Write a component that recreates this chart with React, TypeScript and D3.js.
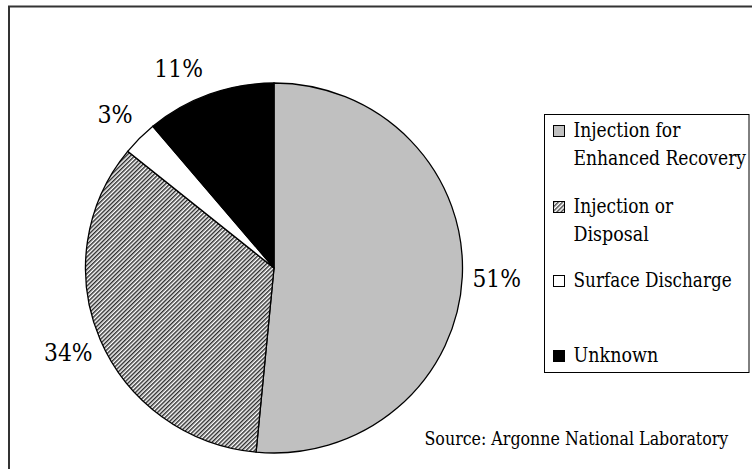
import React from "react";
import * as d3 from "d3";

const categories = ["Injection for Enhanced Recovery", "Injection or Disposal", "Surface Discharge", "Unknown"];
const legendLines = [["Injection for", "Enhanced Recovery"], ["Injection or", "Disposal"], ["Surface Discharge"], ["Unknown"]];
const values = [51, 34, 3, 11];
const labels = ["51%", "34%", "3%", "11%"];
const fills = ["#c0c0c0", "url(#hatch)", "#ffffff", "#000000"];
const sourceText = "Source: Argonne National Laboratory";

const W = 752;
const H = 469;
const cx = 274;
const cy = 268;
const rx = 188.5;
const ry = 185;
const labelR = 223;
const FONT = "DejaVu Serif";

// Times-Roman advance widths (per 1000 em), used to give the serif text Times-like widths
const TW: Record<string, number> = {
  " ": 250, "%": 833, ":": 278, "0": 500, "1": 500, "2": 500, "3": 500, "4": 500, "5": 500, "6": 500, "7": 500, "8": 500, "9": 500,
  A: 722, D: 722, E: 611, I: 333, L: 611, N: 722, R: 667, S: 556, U: 722,
  a: 444, b: 500, c: 444, d: 500, e: 444, f: 333, g: 500, h: 500, i: 278, j: 278, k: 500, l: 278, m: 778, n: 500, o: 500,
  p: 500, r: 333, s: 389, t: 278, u: 500, v: 500, w: 722, y: 500,
};
const timesWidth = (s: string, size: number) => s.split("").reduce((acc, ch) => acc + (TW[ch] ?? 500), 0) * size / 1000;
const CAP_RATIO = 0.662 / 0.729;

function SerifText(props: { x: number; y: number; size: number; text: string; anchor?: string; dy?: string }) {
  const { x, y, size, text, anchor, dy } = props;
  return (
    <text
      x={x}
      y={y}
      dy={dy}
      textAnchor={anchor || "start"}
      fontFamily={FONT}
      fontSize={size * CAP_RATIO}
      textLength={timesWidth(text, size)}
      lengthAdjust="spacingAndGlyphs"
      fill="#000"
    >
      {text}
    </text>
  );
}

export default function App() {
  const pie = d3.pie<number>().sort(null).value((d) => d);
  const arcs = pie(values);
  const arc = d3.arc<d3.PieArcDatum<number>>().innerRadius(0).outerRadius(rx);
  const legendTop = 114;
  const legendRowY = [137, 213, 287, 362];

  return (
    <svg width={W} height={H} style={{ position: "absolute", left: 0, top: 0, background: "#fff" }}>
      <defs>
        <pattern id="hatch" patternUnits="userSpaceOnUse" width={3} height={3} patternTransform="rotate(45)">
          <rect width={3} height={3} fill="#fff" />
          <line x1={0.75} y1={0} x2={0.75} y2={3} stroke="#222" strokeWidth={1.4} />
        </pattern>
        <pattern id="hatchS" patternUnits="userSpaceOnUse" width={3} height={3} patternTransform="rotate(45)">
          <rect width={3} height={3} fill="#fff" />
          <line x1={0.75} y1={0} x2={0.75} y2={3} stroke="#222" strokeWidth={1.2} />
        </pattern>
      </defs>
      <rect x={9} y={6.5} width={760} height={480} fill="none" stroke="#333" strokeWidth={2} />
      <g transform={`translate(${cx},${cy}) scale(1,${ry / rx})`}>
        {arcs.map((a, i) => (
          <path key={categories[i]} d={arc(a) || ""} fill={fills[i]} stroke="#000" strokeWidth={1.3} vectorEffect="non-scaling-stroke" />
        ))}
      </g>
      {arcs.map((a, i) => {
        const mid = (a.startAngle + a.endAngle) / 2;
        const x = cx + labelR * Math.sin(mid) * (i === 3 ? 1.25 : 1);
        const y = cy - labelR * Math.cos(mid) * (ry / rx) * (i === 3 ? 0.97 : 1);
        return <SerifText key={labels[i]} x={x} y={y} dy="0.36em" anchor="middle" size={26.5} text={labels[i]} />;
      })}
      <rect x={544.5} y={legendTop + 0.5} width={204.5} height={258} fill="#fff" stroke="#000" strokeWidth={1} />
      {legendLines.map((lines, i) => (
        <g key={categories[i]}>
          <rect x={553.5} y={legendRowY[i] - 11.5} width={11} height={11} fill={i === 1 ? "url(#hatchS)" : fills[i]} stroke="#000" strokeWidth={1} />
          {lines.map((ln, j) => (
            <SerifText key={ln} x={573.5} y={legendRowY[i] + j * 28} size={21.5} text={ln} />
          ))}
        </g>
      ))}
      <SerifText x={424.5} y={445} size={20} text={sourceText} />
    </svg>
  );
}
